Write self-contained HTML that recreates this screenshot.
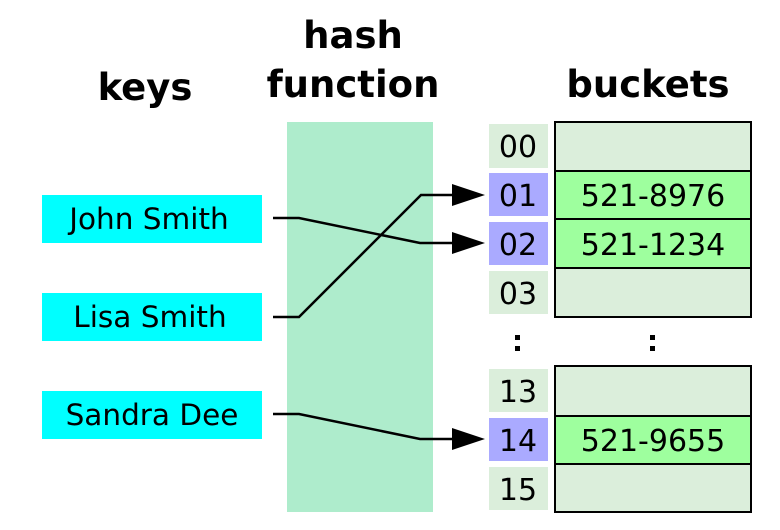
<!DOCTYPE html>
<html><head><style>body{margin:0;background:#fff}svg{display:block}</style></head><body>
<svg width="780" height="530" viewBox="0 0 780 530" xmlns="http://www.w3.org/2000/svg" font-family="DejaVu Sans, Liberation Sans, sans-serif">
<g font-weight="bold" font-size="37" text-anchor="middle" fill="#000">
<text x="145" y="100">keys</text>
<text x="353" y="48">hash</text>
<text x="353" y="97">function</text>
<text x="648" y="97">buckets</text>
</g>
<rect x="287" y="122" width="146" height="390" fill="#aeeccc"/>
<g fill="#00ffff">
<rect x="42" y="195" width="220" height="48"/>
<rect x="42" y="293" width="220" height="48"/>
<rect x="42" y="391" width="220" height="48"/>
</g>
<g font-size="29.5" text-anchor="middle" fill="#000">
<text x="149" y="229">John Smith</text>
<text x="150" y="327">Lisa Smith</text>
<text x="152" y="425">Sandra Dee</text>
</g>
<g>
<rect x="489" y="124" width="59" height="44" fill="#dbeedb"/>
<rect x="489" y="173" width="59" height="43" fill="#aaaaff"/>
<rect x="489" y="222" width="59" height="43" fill="#aaaaff"/>
<rect x="489" y="271" width="59" height="43" fill="#dbeedb"/>
<rect x="489" y="369" width="59" height="43" fill="#dbeedb"/>
<rect x="489" y="418" width="59" height="43" fill="#aaaaff"/>
<rect x="489" y="467" width="59" height="43" fill="#dbeedb"/>
</g>
<g stroke="#000" stroke-width="2">
<rect x="555" y="122" width="196" height="49" fill="#dbeedb"/>
<rect x="555" y="171" width="196" height="48" fill="#9eff9e"/>
<rect x="555" y="219" width="196" height="49" fill="#9eff9e"/>
<rect x="555" y="268" width="196" height="49" fill="#dbeedb"/>
<rect x="555" y="366" width="196" height="50" fill="#dbeedb"/>
<rect x="555" y="416" width="196" height="48" fill="#9eff9e"/>
<rect x="555" y="464" width="196" height="48" fill="#dbeedb"/>
</g>
<g font-size="30" text-anchor="middle" fill="#000">
<text x="518" y="157">00</text>
<text x="518" y="206">01</text>
<text x="518" y="255">02</text>
<text x="518" y="304">03</text>
<text x="518" y="402">13</text>
<text x="518" y="451">14</text>
<text x="518" y="500">15</text>
<text x="653" y="206">521-8976</text>
<text x="653" y="255">521-1234</text>
<text x="653" y="451">521-9655</text>
</g>
<g fill="#000">
<rect x="515" y="335" width="5" height="5"/><rect x="515" y="346" width="5" height="5"/>
<rect x="650" y="335" width="5" height="5"/><rect x="650" y="346" width="5" height="5"/>
</g>
<g fill="none" stroke="#000" stroke-width="2.5">
<polyline points="273,218 299,218 420,243 455,243"/>
<polyline points="273,317 299,317 421,195 455,195"/>
<polyline points="273,414 299,414 420,439 455,439"/>
</g>
<g fill="#000">
<polygon points="452,184 485,195 452,206"/>
<polygon points="452,232 485,243 452,254"/>
<polygon points="452,428 485,439 452,450"/>
</g>
</svg>
</body></html>
